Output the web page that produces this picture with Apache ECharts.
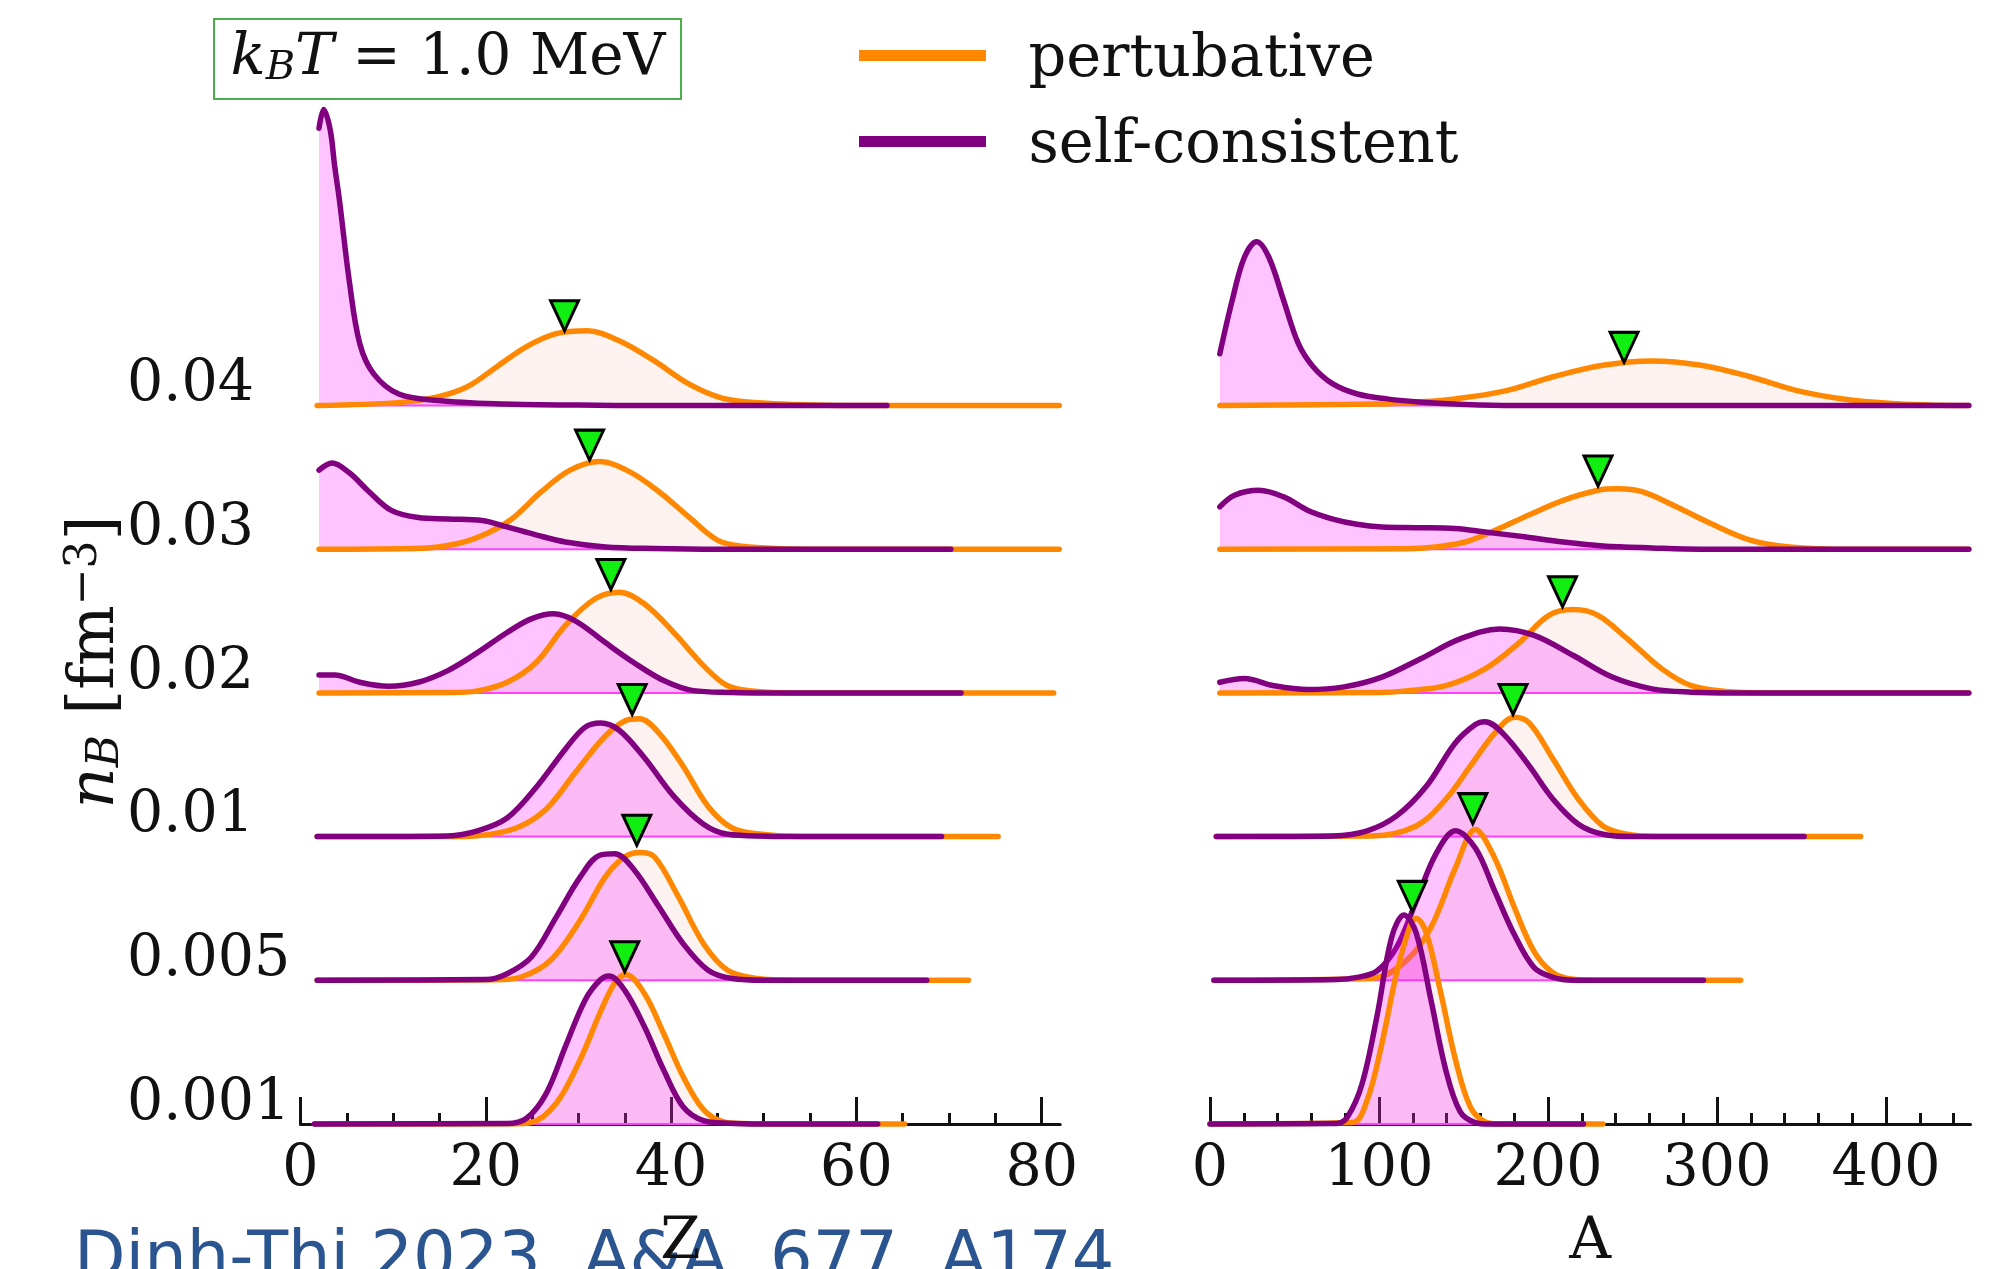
<!DOCTYPE html>
<html>
<head>
<meta charset="utf-8">
<script src="https://cdn.jsdelivr.net/npm/echarts@6/dist/echarts.min.js"></script>
<style>
  html, body { margin: 0; padding: 0; background: #fff; }
  #chart { width: 1997px; height: 1269px; }
</style>
</head>
<body>
<div id="chart"></div>
<script>
// n_B rows, top to bottom
var densityLabels = ['0.04', '0.03', '0.02', '0.01', '0.005', '0.001'];
var zTicks = [0, 20, 40, 60, 80];
var aTicks = [0, 100, 200, 300, 400];

// P(Z), heights in units of the row spacing
var zPert = [
  [[1.8,0],[10.6,0.02],[14.8,0.06],[18,0.13],[21.2,0.27],[24.4,0.41],[27.6,0.5],[31,0.52],[34.4,0.45],[38.2,0.31],[41.9,0.15],[45.6,0.05],[50.3,0.016],[55.6,0.004],[60,0],[81.9,0]],
  [[2,0],[13.2,0.007],[17,0.04],[20.1,0.11],[22.8,0.21],[26,0.4],[29.1,0.55],[32.3,0.61],[35.5,0.54],[38.7,0.4],[41.9,0.225],[45,0.063],[47.7,0.02],[52,0.003],[56,0],[81.9,0]],
  [[2,0],[16,0.002],[19.1,0.014],[22.3,0.074],[25.4,0.21],[28.6,0.47],[31.8,0.655],[34.4,0.7],[37.1,0.62],[40.3,0.42],[43.5,0.19],[46.1,0.05],[49.3,0.01],[53,0],[81.3,0]],
  [[1.8,0],[17,0],[19.1,0.005],[23.3,0.06],[26.5,0.19],[29.7,0.45],[32.9,0.7],[35,0.805],[36.6,0.82],[38.7,0.72],[41.3,0.49],[44,0.21],[46.6,0.06],[49.8,0.016],[54,0],[75.3,0]],
  [[1.8,0],[21,0.003],[23.8,0.023],[27,0.14],[30.2,0.42],[32.9,0.72],[35,0.86],[36.6,0.89],[38.2,0.86],[40.8,0.58],[43.5,0.255],[46.1,0.07],[49.3,0.012],[53,0],[72.1,0]],
  [[1.5,0],[23,0.002],[24.9,0.01],[27.6,0.144],[30.2,0.45],[32.3,0.77],[33.9,0.98],[35.1,1.04],[37.1,0.91],[39.2,0.63],[41.3,0.33],[43.5,0.1],[45.6,0.016],[47.7,0.003],[52,0],[65.2,0]]
];
var zSelf = [
  [[2,1.93],[2.5,2.06],[3.2,1.92],[3.7,1.66],[4.2,1.43],[5.3,0.85],[6.4,0.43],[7.9,0.22],[10.6,0.08],[14.8,0.035],[21,0.012],[30,0.003],[38,0],[63.3,0]],
  [[2,0.55],[3.4,0.6],[5.3,0.53],[7.4,0.4],[9.8,0.27],[12.7,0.22],[15.9,0.21],[19.6,0.2],[22.3,0.155],[25.4,0.1],[28.6,0.05],[32.9,0.016],[38.2,0.005],[45,0],[70.2,0]],
  [[2,0.125],[3.7,0.125],[6.4,0.074],[9.5,0.046],[12.7,0.074],[15.9,0.155],[19.1,0.28],[22.3,0.42],[24.9,0.515],[27.3,0.55],[29.7,0.5],[32.9,0.35],[36,0.21],[39.2,0.086],[42.4,0.016],[46.6,0.003],[50,0],[71.3,0]],
  [[1.8,0],[15.9,0.005],[19.1,0.04],[22.3,0.13],[25.4,0.34],[28.6,0.61],[30.7,0.76],[32.4,0.79],[34.4,0.74],[37.1,0.55],[40.3,0.28],[43.5,0.086],[46.1,0.016],[50.3,0.003],[54,0],[69.2,0]],
  [[1.8,0],[20,0.005],[22.3,0.046],[24.9,0.16],[27.6,0.44],[30.2,0.72],[32.3,0.87],[33.9,0.88],[36,0.77],[38.7,0.51],[41.3,0.255],[44,0.07],[46.6,0.012],[50,0],[67.6,0]],
  [[1.5,0],[22.3,0.003],[24.4,0.04],[26.5,0.21],[28.6,0.54],[30.7,0.86],[32.3,1.0],[33.3,1.03],[35,0.93],[37.1,0.68],[39.2,0.376],[41.3,0.12],[43.5,0.023],[46.1,0.005],[50,0],[62.3,0]]
];

// P(A)
var aPert = [
  [[5.8,0],[100,0.01],[122,0.023],[145,0.046],[174,0.1],[203,0.2],[232.5,0.28],[261.5,0.31],[290.6,0.28],[319.7,0.2],[348.7,0.1],[377.8,0.04],[406.8,0.012],[430,0.002],[449,0]],
  [[5.8,0],[116,0.003],[133.7,0.016],[151,0.05],[168.5,0.13],[189,0.24],[209,0.34],[229.6,0.41],[241,0.42],[255.7,0.4],[276,0.295],[296,0.18],[319.7,0.063],[343,0.016],[378,0],[449,0]],
  [[5.8,0],[100,0.003],[116,0.014],[139.5,0.05],[162.7,0.167],[183,0.35],[200.5,0.54],[215,0.58],[229.6,0.54],[247,0.376],[267.4,0.167],[284.8,0.05],[305,0.01],[330,0],[449,0]],
  [[3.7,0],[96,0.005],[122,0.074],[139.5,0.26],[154,0.49],[168.5,0.72],[180,0.83],[189,0.79],[203,0.54],[218,0.26],[232.5,0.074],[247,0.016],[265,0],[385,0]],
  [[2.3,0],[96,0.014],[116,0.135],[130.8,0.37],[145.3,0.785],[157,1.05],[168.5,0.85],[180,0.51],[191.8,0.2],[203,0.053],[215,0.007],[230,0],[314,0]],
  [[0,0],[84,0.01],[93,0.167],[101.7,0.56],[110.4,1.05],[119,1.4],[122,1.43],[128,1.33],[136.6,0.91],[145.3,0.445],[154,0.12],[162.7,0.016],[172,0],[232.5,0]]
];
var aSelf = [
  [[5.8,0.36],[13.1,0.73],[20.3,1.03],[27.6,1.14],[34.9,1.03],[43.6,0.73],[52.3,0.43],[61,0.27],[72.7,0.15],[87.2,0.08],[104.6,0.046],[125,0.023],[151,0.007],[180,0],[449,0]],
  [[5.8,0.295],[14.5,0.376],[29,0.41],[43.6,0.364],[58,0.27],[72.7,0.21],[87,0.174],[101.7,0.155],[122,0.15],[145,0.144],[162.7,0.12],[186,0.086],[209,0.05],[232.5,0.023],[261.5,0.009],[290,0],[449,0]],
  [[5.8,0.074],[20.3,0.1],[37.8,0.05],[58,0.023],[78.5,0.04],[101.7,0.11],[125,0.24],[148,0.376],[171.5,0.445],[191.8,0.4],[215,0.26],[238,0.11],[261.5,0.028],[284.8,0.005],[310,0],[449,0]],
  [[3.7,0],[72.7,0.005],[93,0.04],[110.4,0.144],[128,0.35],[145,0.65],[157,0.78],[162.7,0.8],[174,0.71],[189,0.49],[203,0.26],[218,0.086],[232.5,0.016],[250,0],[351.6,0]],
  [[2.3,0],[75,0.005],[87,0.02],[98.8,0.065],[110.4,0.23],[122,0.55],[133.7,0.88],[145.3,1.04],[157,0.92],[168.5,0.62],[180,0.32],[191.8,0.088],[203,0.02],[215,0],[292,0]],
  [[0,0],[75,0.003],[81.4,0.05],[90,0.28],[98.8,0.75],[107.5,1.3],[114.8,1.455],[122,1.33],[130.8,0.86],[139.5,0.376],[148,0.086],[157,0.01],[165,0],[221,0]]
];

// green markers (x, height of tip)
var zMarkers = [[28.5,0.52],[31.2,0.62],[33.5,0.72],[35.8,0.85],[36.3,0.94],[35,1.06]];
var aMarkers = [[245,0.3],[229.6,0.44],[208.6,0.6],[179.3,0.85],[155.5,1.09],[119.7,1.48]];

var ORANGE = '#ff8800';
var PURPLE = '#800080';
var SERIF = 'DejaVu Serif';
var ROW_H = 143.7;
var BASE0 = 405.5;

function steps(max, step) {
  var out = [];
  for (var v = 0; v <= max; v += step) out.push(v);
  return out;
}

var panels = [
  { left: 300.5, width: 759.7, max: 82, ticks: zTicks, minor: steps(80, 5), name: 'Z',
    pert: zPert, self: zSelf, marks: zMarkers, labels: true },
  { left: 1210, width: 760.5, max: 450, ticks: aTicks, minor: steps(440, 20), name: 'A',
    pert: aPert, self: aSelf, marks: aMarkers, labels: false }
];

var grids = [], xAxes = [], yAxes = [], series = [];

panels.forEach(function (p, pi) {
  for (var r = 0; r < 6; r++) {
    var g = pi * 6 + r;
    var base = BASE0 + r * ROW_H;
    var bottomRow = r === 5;
    grids.push({ left: p.left, width: p.width, top: base - ROW_H, height: ROW_H,
      containLabel: false, outerBoundsMode: 'none' });
    xAxes.push({
      gridIndex: g, type: 'value', min: 0, max: p.max, interval: p.ticks[1],
      show: bottomRow,
      axisLine: { show: true, lineStyle: { color: '#111', width: 3 } },
      axisTick: { show: true, inside: true, length: 27, lineStyle: { color: '#111', width: 3 }, customValues: p.ticks },
      axisLabel: { show: true, customValues: p.ticks, margin: 18, fontFamily: SERIF, fontSize: 57, color: '#111' },
      splitLine: { show: false },
      name: bottomRow ? p.name : '', nameLocation: 'middle', nameGap: 90,
      nameTextStyle: { fontFamily: SERIF, fontSize: 58, color: '#111' }
    });
    yAxes.push({
      gridIndex: g, type: 'value', min: 0, max: 1, interval: 1,
      show: p.labels,
      axisLine: { show: false }, axisTick: { show: false }, splitLine: { show: false },
      axisLabel: {
        show: true, customValues: [0],
        formatter: (function (lab) { return function (v) { return v === 0 ? lab : ''; }; })(densityLabels[r]),
        align: 'left', verticalAlign: 'bottom', lineHeight: 40, margin: p.left - 127,
        fontFamily: SERIF, fontSize: 57, color: '#111'
      }
    });

    var zb = 10 + r * 10;
    var pert = p.pert[r], self = p.self[r];
    var common = { type: 'line', xAxisIndex: g, yAxisIndex: g, smooth: 0.35, showSymbol: false,
      symbol: 'none', clip: false, silent: true };
    series.push(Object.assign({}, common, { name: 'pert-fill', data: pert, z: zb,
      lineStyle: { width: 0, opacity: 0 }, areaStyle: { color: 'rgba(228,150,130,0.16)' } }));
    series.push(Object.assign({}, common, { name: 'self-fill', data: self, z: zb + 1,
      lineStyle: { width: 0, opacity: 0 }, areaStyle: { color: 'rgba(255,0,255,0.33)' } }));
    series.push(Object.assign({}, common, { name: 'self-edge', smooth: false, z: zb + 2,
      data: [[self[0][0], 0], [self[self.length - 1][0], 0]],
      lineStyle: { width: 2, color: '#ff40ff' } }));
    series.push(Object.assign({}, common, { name: 'pertubative', data: pert, z: zb + 3,
      lineStyle: { width: 5.5, color: ORANGE, cap: 'round', join: 'round' }, itemStyle: { color: ORANGE } }));
    series.push(Object.assign({}, common, { name: 'self-consistent', data: self, z: zb + 4,
      lineStyle: { width: 5.5, color: PURPLE, cap: 'round', join: 'round' }, itemStyle: { color: PURPLE } }));
    series.push({
      type: 'scatter', xAxisIndex: g, yAxisIndex: g, data: [p.marks[r]], z: 200, silent: true, clip: false,
      symbol: 'path://M0,0L2,0L1,2Z', symbolKeepAspect: false, symbolSize: [28, 30], symbolOffset: [0, -15],
      itemStyle: { color: '#11ee11', borderColor: '#000', borderWidth: 3, opacity: 1 }
    });
  }
});

// minor ticks on the two bottom axes
panels.forEach(function (p, pi) {
  xAxes.push({
    gridIndex: pi * 6 + 5, type: 'value', position: 'bottom', min: 0, max: p.max, interval: p.minor[1],
    axisLine: { show: false }, axisLabel: { show: false }, splitLine: { show: false },
    axisTick: { show: true, inside: true, length: 11, lineStyle: { color: '#111', width: 3 }, customValues: p.minor }
  });
});

var chart = echarts.init(document.getElementById('chart'), null, { renderer: 'canvas' });
chart.setOption({
  backgroundColor: '#ffffff',
  animation: false,
  grid: grids,
  xAxis: xAxes,
  yAxis: yAxes,
  series: series,
  legend: {
    left: 854, top: 16, orient: 'vertical', itemWidth: 127, itemHeight: 11, itemGap: 17,
    icon: 'rect', selectedMode: false,
    formatter: function (name) { return '{t|  ' + name + '}'; },
    textStyle: {
      fontFamily: SERIF, fontSize: 59, lineHeight: 60, color: '#111',
      rich: { t: { fontFamily: SERIF, fontSize: 59, lineHeight: 60, color: '#111', padding: [10, 0, 0, 0] } }
    },
    data: [
      { name: 'pertubative', itemStyle: { color: ORANGE } },
      { name: 'self-consistent', itemStyle: { color: PURPLE } }
    ]
  },
  graphic: [
    { type: 'rect', shape: { x: 214, y: 19, width: 467, height: 80 },
      style: { fill: 'none', stroke: '#4daf4a', lineWidth: 2 } },
    { type: 'text', x: 448, y: 59,
      style: {
        text: '{i|k}{s|B}{i|T}{r| = 1.0 MeV}', align: 'center', verticalAlign: 'middle',
        rich: {
          i: { fontFamily: SERIF, fontSize: 58, fontStyle: 'italic', fill: '#111', lineHeight: 60 },
          s: { fontFamily: SERIF, fontSize: 40, fontStyle: 'italic', fill: '#111', lineHeight: 20, verticalAlign: 'bottom' },
          r: { fontFamily: SERIF, fontSize: 58, fill: '#111', lineHeight: 60 }
        }
      } },
    { type: 'text', x: 96, y: 662, rotation: Math.PI / 2,
      style: {
        text: '{i|n}{s|B}{r| [fm}{p|\u22123}{r|]}', align: 'center', verticalAlign: 'middle',
        rich: {
          i: { fontFamily: SERIF, fontSize: 64, fontStyle: 'italic', fill: '#111', lineHeight: 66 },
          s: { fontFamily: SERIF, fontSize: 44, fontStyle: 'italic', fill: '#111', lineHeight: 22, verticalAlign: 'bottom' },
          r: { fontFamily: SERIF, fontSize: 64, fill: '#111', lineHeight: 66 },
          p: { fontFamily: SERIF, fontSize: 44, fill: '#111', lineHeight: 22, verticalAlign: 'top' }
        }
      } },
    { type: 'text', x: 74, y: 1262, z: -1,
      style: { text: 'Dinh-Thi 2023, A&A, 677, A174', fontFamily: 'DejaVu Sans', fontSize: 67,
        fill: '#2b5590', align: 'left', verticalAlign: 'middle' } }
  ]
});
</script>
</body>
</html>
